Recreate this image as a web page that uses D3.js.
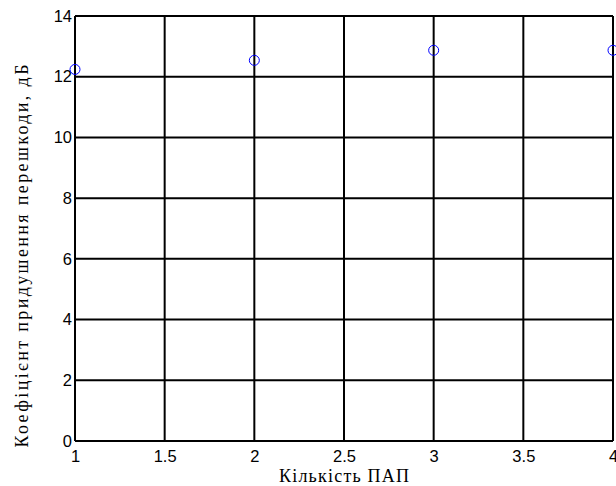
<!DOCTYPE html>
<html>
<head>
<meta charset="utf-8">
<script src="https://cdn.jsdelivr.net/npm/d3@7"></script>
<style>
body { margin: 0; background: #fff; }
</style>
</head>
<body>
<script>
var counts = [1, 2, 3, 4];
var suppression = [12.24, 12.54, 12.87, 12.87];
var xTicks = [1, 1.5, 2, 2.5, 3, 3.5, 4];
var yTicks = [0, 2, 4, 6, 8, 10, 12, 14];

var margin = { top: 16, right: 3, bottom: 45, left: 75 };
var width = 616 - margin.left - margin.right,
	height = 486 - margin.top - margin.bottom;

var svg = d3.select("body").append("svg")
	.attr("width", 616)
	.attr("height", 486)
	.append("g")
	.attr("transform", "translate(" + margin.left + "," + margin.top + ")");

var xScale = d3.scaleLinear().domain([1, 4]).range([0, width]);
var yScale = d3.scaleLinear().domain([0, 14]).range([height, 0]);

// grid
svg.selectAll(".vgrid")
	.data(xTicks)
	.enter().append("line")
	.attr("x1", function(d) { return xScale(d); })
	.attr("x2", function(d) { return xScale(d); })
	.attr("y1", 0)
	.attr("y2", height)
	.attr("stroke", "#000")
	.attr("stroke-width", 2);

svg.selectAll(".hgrid")
	.data(yTicks)
	.enter().append("line")
	.attr("y1", function(d) { return yScale(d); })
	.attr("y2", function(d) { return yScale(d); })
	.attr("x1", 0)
	.attr("x2", width)
	.attr("stroke", "#000")
	.attr("stroke-width", 2);

function styleTicks(g) {
	g.select(".domain").remove();
	g.selectAll(".tick text")
		.style("font-family", "Arial, 'Liberation Sans', sans-serif")
		.style("font-size", "16.5px")
		.style("fill", "#000");
}

var xAxis = d3.axisBottom(xScale)
	.tickValues(xTicks)
	.tickSize(0)
	.tickPadding(9)
	.tickFormat(d3.format("~g"));

svg.append("g")
	.attr("transform", "translate(0," + height + ")")
	.call(xAxis)
	.call(styleTicks);

var yAxis = d3.axisLeft(yScale)
	.tickValues(yTicks)
	.tickSize(0)
	.tickPadding(3);

svg.append("g")
	.call(yAxis)
	.call(styleTicks);

svg.selectAll(".pt")
	.data(counts)
	.enter().append("circle")
	.attr("cx", function(d) { return xScale(d); })
	.attr("cy", function(d, i) { return yScale(suppression[i]); })
	.attr("r", 5)
	.attr("fill", "none")
	.attr("stroke", "#0000ff")
	.attr("stroke-width", 1);

svg.append("text")
	.attr("x", width / 2)
	.attr("y", height + 41)
	.attr("text-anchor", "middle")
	.attr("textLength", 130)
	.attr("lengthAdjust", "spacing")
	.style("font-family", "'Liberation Serif', 'Times New Roman', serif")
	.style("font-size", "18px")
	.text("Кількість ПАП");

svg.append("text")
	.attr("transform", "translate(-47,240) rotate(-90)")
	.attr("text-anchor", "middle")
	.attr("textLength", 383)
	.attr("lengthAdjust", "spacing")
	.style("font-family", "'Liberation Serif', 'Times New Roman', serif")
	.style("font-size", "18px")
	.text("Коефіцієнт придушення перешкоди, дБ");
</script>
</body>
</html>
